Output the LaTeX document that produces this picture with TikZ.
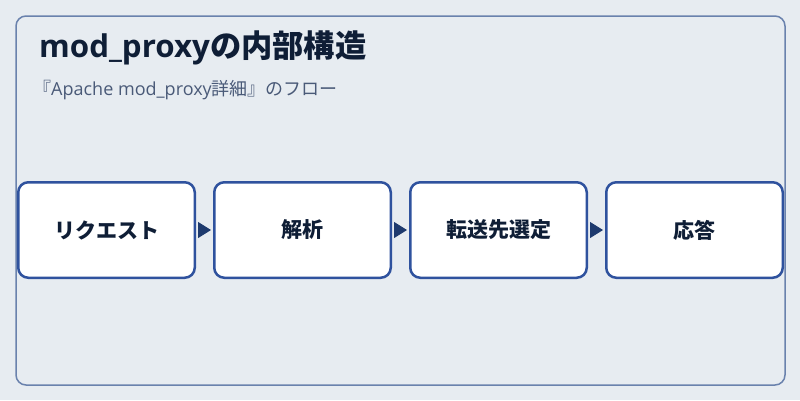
\documentclass[tikz,border=0pt]{standalone}
\usepackage{fontspec}
\setmainfont{Open Sans}
\newfontfamily\jp{Noto Sans CJK JP}
\usetikzlibrary{positioning}
\usetikzlibrary{arrows.meta}
\definecolor{bgcol}{HTML}{E7ECF1}
\definecolor{framecol}{HTML}{6A82AD}
\definecolor{boxcol}{HTML}{2F529E}
\definecolor{arrowcol}{HTML}{1E3A6E}
\definecolor{titlecol}{HTML}{0F1E36}
\definecolor{subcol}{HTML}{4A5A78}

\begin{document}
\begin{tikzpicture}[x=1pt, y=-1pt, node distance=17pt,
        stepbox/.style={draw=boxcol, fill=white, line width=2.5pt, rounded corners=10pt,
            minimum width=176.5pt, minimum height=95.5pt, inner sep=0pt, text=titlecol,
            font=\jp\bfseries\fontsize{21}{25}\selectfont},
        flow/.style={draw=arrowcol, fill=arrowcol, line width=1pt,
            -{Triangle[length=13pt,width=16pt]}, shorten >=2pt, shorten <=2pt}]
        \fill[bgcol] (0,0) rectangle (800,400);
        \useasboundingbox (0,0) rectangle (800,400);
        \draw[framecol, line width=1.5pt, rounded corners=10pt] (16,16) rectangle (785,385);

        \node[anchor=base west, inner sep=0pt, text=titlecol, font=\bfseries\fontsize{31.3}{37}\selectfont] (title) at (39,57) {mod\_proxy{\jp の内部構造}};
        \node[anchor=base west, inner sep=0pt, text=subcol, font=\fontsize{18}{21}\selectfont] (subtitle) at (33,95) {{\jp 『}Apache mod\_proxy{\jp 詳細』のフロー}};

        \node[stepbox] (request) at (106.5,230) {リクエスト};
        \node[stepbox, right = of request] (parse) {解析};
        \node[stepbox, right = of parse] (select) {転送先選定};
        \node[stepbox, right = of select] (response) {応答};

        \draw[flow] (request) -- (parse);
        \draw[flow] (parse) -- (select);
        \draw[flow] (select) -- (response);
    \end{tikzpicture}
\end{document}
